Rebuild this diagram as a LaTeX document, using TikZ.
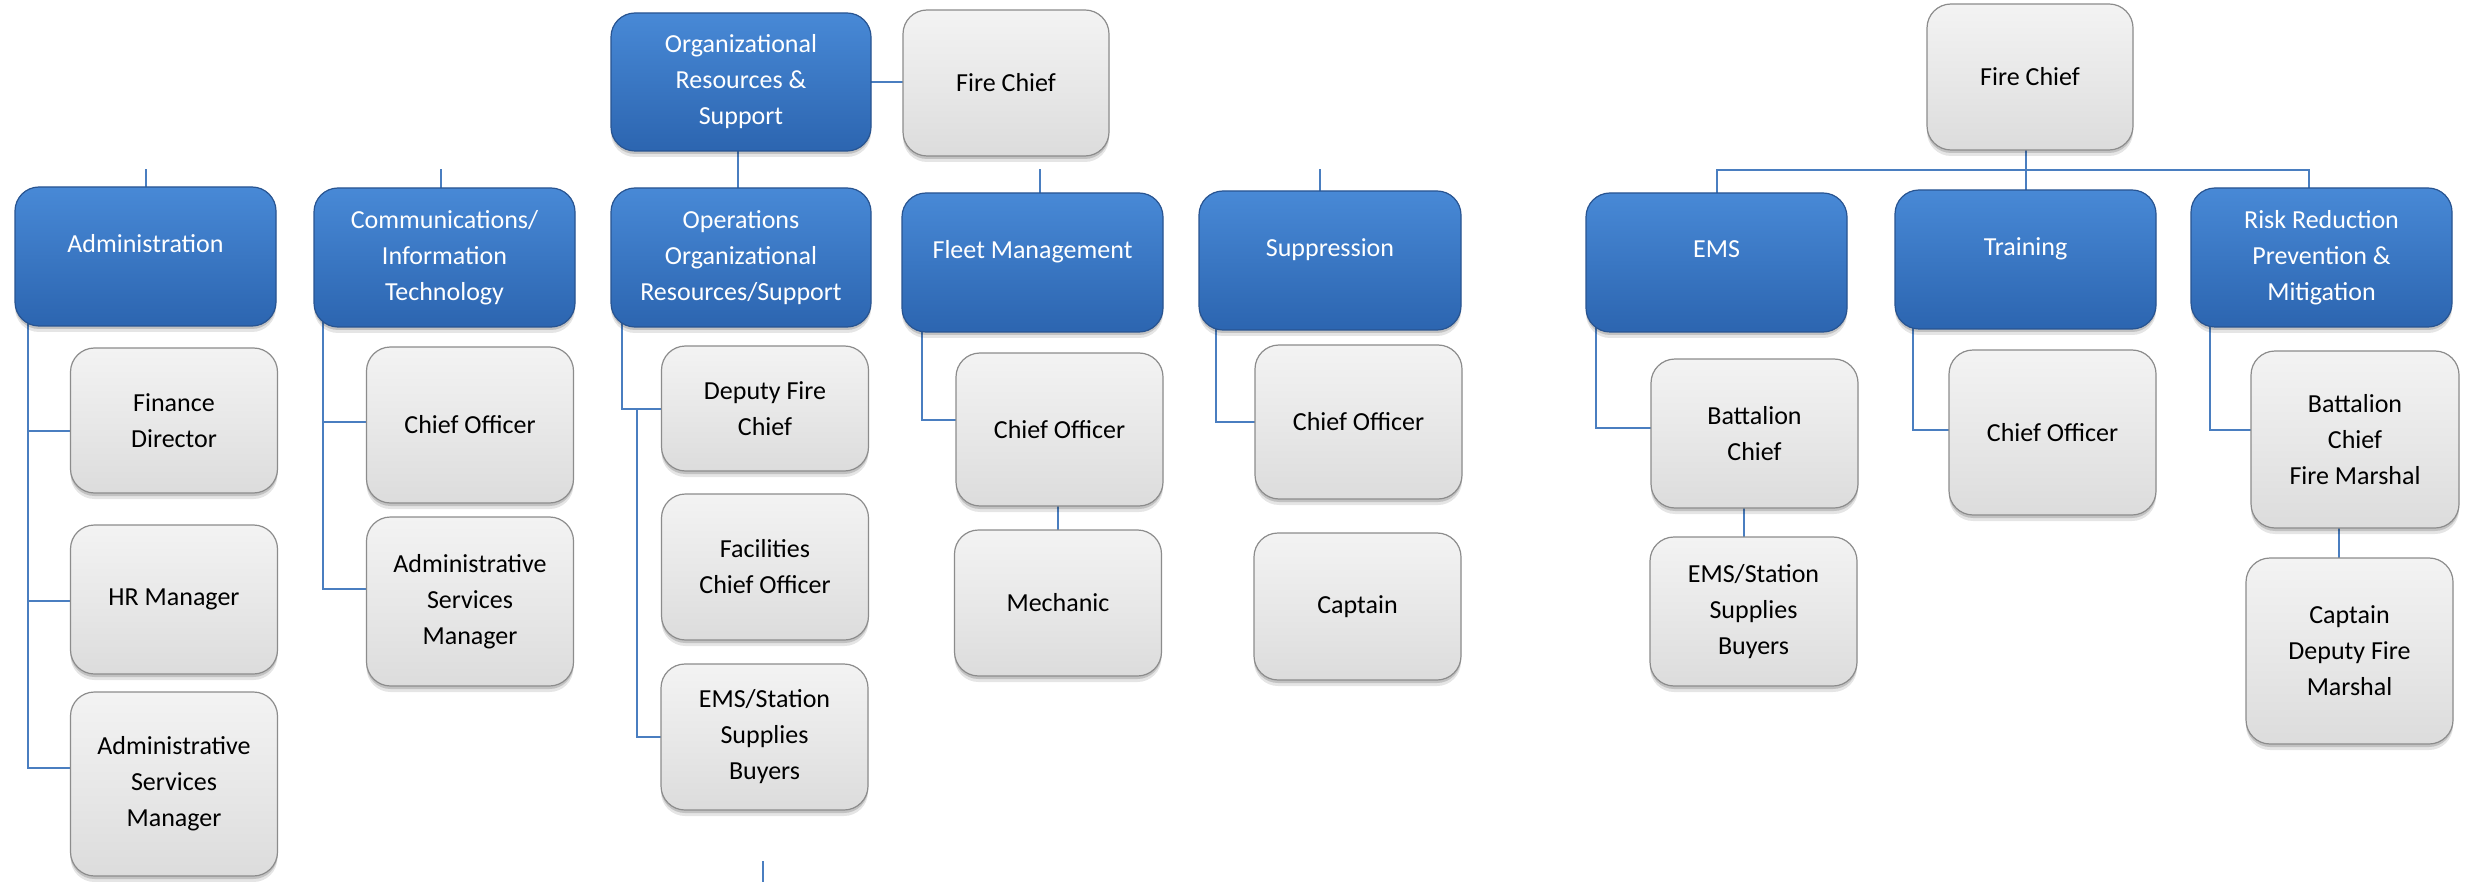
\documentclass[tikz,border=0pt]{standalone}
\usepackage{fontspec}
\setmainfont{Carlito}
\usetikzlibrary{shadows}
\definecolor{blueTop}{RGB}{72,137,214}
\definecolor{blueBot}{RGB}{44,101,176}
\definecolor{blueEdge}{RGB}{40,84,145}
\definecolor{grayTop}{RGB}{243,243,243}
\definecolor{grayMid}{RGB}{232,232,232}
\definecolor{grayBot}{RGB}{220,220,220}
\definecolor{grayEdge}{RGB}{140,140,140}
\definecolor{connBlue}{RGB}{74,126,192}
\pgfdeclarelayer{bg}
\pgfsetlayers{bg,main}
\begin{document}
\begin{tikzpicture}[x=1pt,y=-1pt,
  box/.style={rectangle, rounded corners=24pt, inner sep=0pt, outer sep=0pt, align=center,
    font=\fontsize{26}{36}\selectfont, line width=1.2pt,
    general shadow={shadow xshift=0pt, shadow yshift=-6pt, fill=black, opacity=0.10},
    general shadow={shadow xshift=0pt, shadow yshift=-3pt, fill=black, opacity=0.15}},
  bluebox/.style={box, top color=blueTop, bottom color=blueBot, draw=blueEdge, text=white,
    minimum width=261pt, minimum height=139pt},
  graybox/.style={box, top color=grayTop, bottom color=grayBot, middle color=grayMid, draw=grayEdge,
    text=black, minimum width=207pt},
  conn/.style={draw=connBlue, line width=2pt}
]
\begin{pgfonlayer}{bg}
\fill[white] (0,0) rectangle (2467,882);
\end{pgfonlayer}
\useasboundingbox (0,0) rectangle (2467,882);

% ---- left chart
\node[bluebox, minimum width=260pt, minimum height=138pt] (org) at (741,82) {Organizational\\Resources \&\\Support};
\node[graybox, minimum width=206pt, minimum height=146pt] (fc1) at (1006,83) {Fire Chief};
\node[bluebox] (admin) at (145.5,256.5) {Administration\\[-10pt]\mbox{}};
\node[bluebox] (comm) at (444.5,257.5) {Communications/\\Information\\Technology};
\node[bluebox, minimum width=260pt] (ops) at (741,257.5) {Operations\\Organizational\\Resources/Support};
\node[bluebox] (fleet) at (1032.5,262.5) {Fleet Management\\[-10pt]\mbox{}};
\node[bluebox, minimum width=262pt] (supp) at (1330,260.5) {Suppression\\[-10pt]\mbox{}};

\node[graybox, minimum height=145pt] (fin) at (174,420.5) {Finance\\Director};
\node[graybox, minimum height=149pt] (hr) at (174,599.5) {HR Manager};
\node[graybox, minimum height=184pt] (asm1) at (174,784) {Administrative\\Services\\Manager};
\node[graybox, minimum height=156pt] (co1) at (470,425) {Chief Officer};
\node[graybox, minimum height=169pt] (asm2) at (470,601.5) {Administrative\\Services\\Manager};
\node[graybox, minimum height=125pt] (dfc) at (765,408.5) {Deputy Fire\\Chief};
\node[graybox, minimum height=146pt] (fac) at (765,567) {Facilities\\Chief Officer};
\node[graybox, minimum height=146pt] (ems1) at (764.5,737) {EMS/Station\\Supplies\\Buyers};
\node[graybox, minimum height=153pt] (co2) at (1059.5,429.5) {Chief Officer};
\node[graybox, minimum height=146pt] (mech) at (1058,603) {Mechanic};
\node[graybox, minimum height=154pt] (co3) at (1358.5,422) {Chief Officer};
\node[graybox, minimum height=147pt] (capt) at (1357.5,606.5) {Captain};

% ---- right chart
\node[graybox, minimum width=206pt, minimum height=146pt] (fc2) at (2030,77) {Fire Chief};
\node[bluebox] (ems) at (1716.5,262.5) {EMS\\[-10pt]\mbox{}};
\node[bluebox] (trn) at (2025.5,259.5) {Training\\[-10pt]\mbox{}};
\node[bluebox] (risk) at (2321.5,257.5) {Risk Reduction\\Prevention \&\\Mitigation};
\node[graybox, minimum height=149pt] (bc1) at (1754.5,433.5) {Battalion\\Chief};
\node[graybox, minimum height=149pt] (ems2) at (1753.5,611.5) {EMS/Station\\Supplies\\Buyers};
\node[graybox, minimum height=165pt] (co4) at (2052.5,432.5) {Chief Officer};
\node[graybox, minimum width=208pt, minimum height=177pt] (bcfm) at (2355,439.5) {Battalion\\Chief\\Fire Marshal};
\node[graybox, minimum height=186pt] (cdfm) at (2349.5,651) {Captain\\Deputy Fire\\Marshal};

\coordinate (topline) at (0,169);
\coordinate (bus) at (0,170);
\coordinate (opsj) at (637,408.5);
\coordinate (stubA) at (763,861);
\coordinate (stubB) at (763,882);

\begin{pgfonlayer}{bg}
\draw[conn] (org.east) -- (org.east -| fc1.west);
\draw[conn] ([xshift=-3pt]org.south) -- ([xshift=-3pt]ops.north);
\draw[conn] (admin.north) -- (admin.north |- topline);
\draw[conn] ([xshift=-3.5pt]comm.north) -- ([xshift=-3.5pt]comm.north |- topline);
\draw[conn] ([xshift=7.5pt]fleet.north) -- ([xshift=7.5pt]fleet.north |- topline);
\draw[conn] ([xshift=-10pt]supp.north) -- ([xshift=-10pt]supp.north |- topline);
% administration
\draw[conn] ([xshift=13pt,yshift=5pt]admin.south west) |- ([yshift=-10.5pt]fin.west);
\draw[conn] ([xshift=13pt,yshift=5pt]admin.south west) |- ([yshift=-1.5pt]hr.west);
\draw[conn] ([xshift=13pt,yshift=5pt]admin.south west) |- ([yshift=16pt]asm1.west);
% communications
\draw[conn] ([xshift=9pt,yshift=5pt]comm.south west) |- ([yshift=3pt]co1.west);
\draw[conn] ([xshift=9pt,yshift=5pt]comm.south west) |- ([yshift=12.5pt]asm2.west);
% operations
\draw[conn] ([xshift=11pt,yshift=5pt]ops.south west) |- (dfc.west);
\draw[conn] (opsj) |- (ems1.west);
\draw[conn] (stubA) -- (stubB);
% fleet
\draw[conn] ([xshift=20pt,yshift=5pt]fleet.south west) |- ([yshift=9.5pt]co2.west);
\draw[conn] ([xshift=-2pt,yshift=5pt]co2.south) -- ([xshift=-2pt]co2.south |- mech.north);
% suppression
\draw[conn] ([xshift=17pt,yshift=5pt]supp.south west) |- (co3.west);
% right chart
\draw[conn] (fc2.south -| trn.north) -- (trn.north);
\draw[conn] (ems.north) -- (ems.north |- bus) -| ([xshift=-12.5pt]risk.north);
\draw[conn] ([xshift=10pt,yshift=5pt]ems.south west) |- ([yshift=5.5pt]bc1.west);
\draw[conn] ([xshift=-11pt,yshift=5pt]bc1.south) -- ([xshift=-11pt]bc1.south |- ems2.north);
\draw[conn] ([xshift=18pt,yshift=5pt]trn.south west) |- ([yshift=2.5pt]co4.west);
\draw[conn] ([xshift=19pt,yshift=5pt]risk.south west) |- ([yshift=9.5pt]bcfm.west);
\draw[conn] ([xshift=-16pt,yshift=5pt]bcfm.south) -- ([xshift=-16pt]bcfm.south |- cdfm.north);
\end{pgfonlayer}
\end{tikzpicture}
\end{document}
